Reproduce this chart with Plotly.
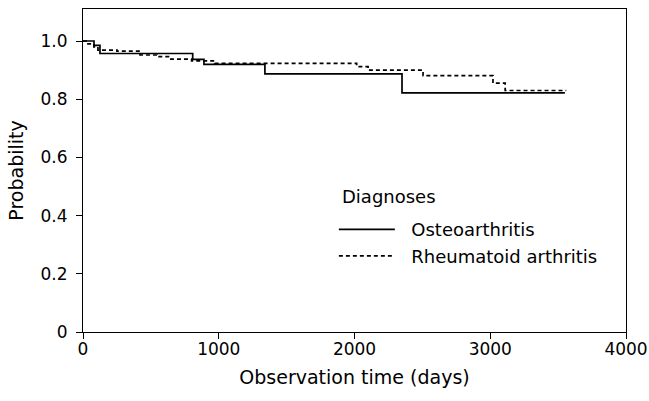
import plotly.graph_objects as go

# Osteoarthritis (solid) Kaplan-Meier steps
oa_t = [0, 81, 125, 808, 891, 1340, 2350, 3550]
oa_p = [1.0, 0.985, 0.957, 0.937, 0.920, 0.887, 0.822, 0.822]

# Rheumatoid arthritis (dashed) steps
ra_t = [0, 30, 80, 110, 250, 420, 545, 640, 800, 970, 2016, 2100, 2505, 3020, 3110, 3560]
ra_p = [1.0, 0.99, 0.98, 0.969, 0.965, 0.952, 0.946, 0.938, 0.932, 0.923, 0.912, 0.900, 0.881, 0.855, 0.830, 0.830]

x_ticks = [0, 1000, 2000, 3000, 4000]
y_ticks = [0, 0.2, 0.4, 0.6, 0.8, 1.0]
y_tick_labels = ["0", "0.2", "0.4", "0.6", "0.8", "1.0"]

series_names = ["Osteoarthritis", "Rheumatoid arthritis"]
legend_title = "Diagnoses"

font_family = "DejaVu Sans, Liberation Sans, Arial, sans-serif"
pad = "\u00a0\u00a0"

fig = go.Figure()
fig.add_trace(go.Scatter(x=oa_t, y=oa_p, mode="lines", name=pad + series_names[0],
                         line=dict(color="black", width=1.7, shape="hv")))
fig.add_trace(go.Scatter(x=ra_t, y=ra_p, mode="lines", name=pad + series_names[1],
                         line=dict(color="black", width=1.7, shape="hv", dash="4px,3px")))

fig.add_annotation(text=legend_title, xref="paper", yref="paper", x=0.473, y=0.421,
                   xanchor="left", yanchor="middle", showarrow=False,
                   font=dict(size=18, family=font_family, color="black"))

fig.update_layout(
    width=649, height=401,
    margin=dict(l=83, r=23, t=9, b=69, autoexpand=False),
    paper_bgcolor="white", plot_bgcolor="white",
    font=dict(family=font_family, size=17, color="black"),
    showlegend=True,
    legend=dict(x=0.462, y=0.374, xanchor="left", yanchor="top",
                bgcolor="rgba(0,0,0,0)", itemwidth=56,
                font=dict(size=18)),
)
fig.update_xaxes(range=[0, 4000], tickvals=x_ticks, ticks="outside", ticklen=6,
                 tickcolor="black", showline=True, linecolor="black", linewidth=1,
                 mirror=True, showgrid=False, zeroline=False, automargin=False,
                 tickfont=dict(size=17), ticklabelstandoff=-4,
                 title=dict(text="Observation time (days)", font=dict(size=19), standoff=12))
fig.update_yaxes(range=[0, 1.11], tickvals=y_ticks, ticktext=y_tick_labels, ticks="outside",
                 ticklen=6, tickcolor="black", showline=True, linecolor="black", linewidth=1,
                 mirror=True, showgrid=False, zeroline=False, automargin=False,
                 tickfont=dict(size=17), ticklabelstandoff=5,
                 title=dict(text="Probability", font=dict(size=19), standoff=11))

fig.write_html("out.html", config={"displayModeBar": False},
               post_script="document.body.style.margin='0';document.body.style.overflow='hidden';")
